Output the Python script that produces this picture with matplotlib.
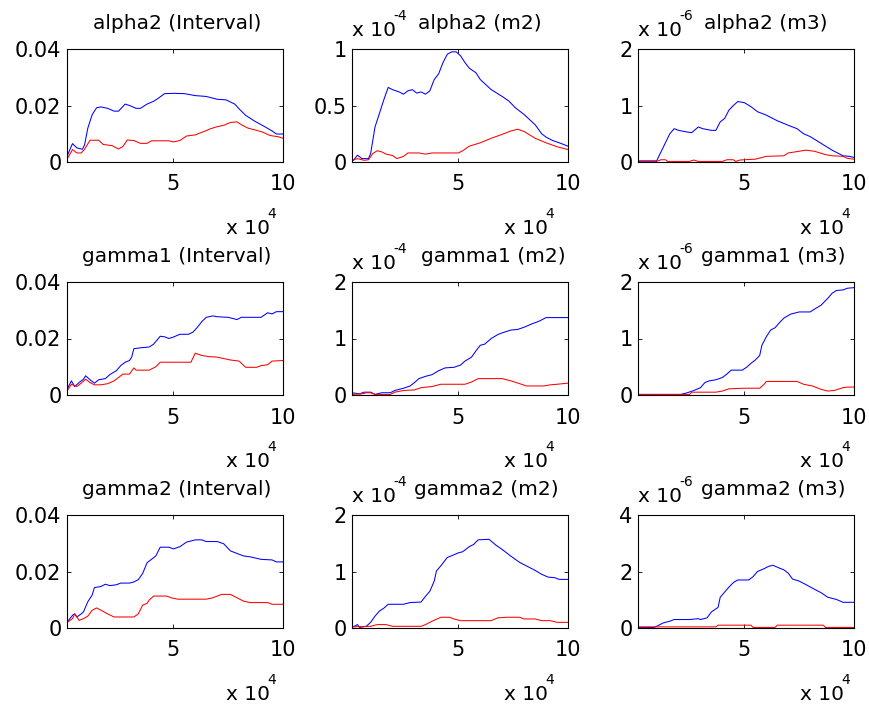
import matplotlib
matplotlib.use("Agg")
import matplotlib.pyplot as plt

plt.rcParams['font.family'] = ['DejaVu Sans']

# x in units of 1e4, y in units of the panel multiplier
a2_int_blue = [(0.15, 0.002), (0.4, 0.0065), (0.6, 0.005), (0.85, 0.0045), (0.95, 0.006), (1.1, 0.012),
               (1.3, 0.0168), (1.5, 0.0192), (1.7, 0.0195), (2.0, 0.019), (2.3, 0.018), (2.5, 0.018),
               (2.8, 0.0205), (3.0, 0.02), (3.3, 0.019), (3.5, 0.019), (3.8, 0.0205), (4.1, 0.0215),
               (4.3, 0.0225), (4.6, 0.0242), (5.0, 0.0243), (5.5, 0.0242), (6.0, 0.0235), (6.5, 0.0232),
               (7.0, 0.0222), (7.4, 0.022), (7.8, 0.0205), (8.0, 0.0188), (8.3, 0.0165), (8.7, 0.0145),
               (9.1, 0.0128), (9.5, 0.011), (9.7, 0.0099), (10.0, 0.0099)]
a2_int_red = [(0.15, 0.001), (0.4, 0.0044), (0.6, 0.0032), (0.8, 0.0032), (0.95, 0.0045), (1.2, 0.0077),
              (1.6, 0.0077), (1.8, 0.0062), (2.2, 0.0058), (2.5, 0.0046), (2.7, 0.0055), (2.9, 0.0078),
              (3.2, 0.0076), (3.5, 0.0066), (3.8, 0.0066), (4.0, 0.0075), (4.8, 0.0075), (5.0, 0.0071),
              (5.3, 0.0076), (5.6, 0.0092), (6.0, 0.0096), (6.4, 0.0108), (6.7, 0.0118), (7.0, 0.0125),
              (7.3, 0.013), (7.6, 0.014), (7.9, 0.0142), (8.1, 0.0132), (8.4, 0.012), (8.8, 0.0112),
              (9.1, 0.0105), (9.4, 0.0094), (9.8, 0.0089), (10.0, 0.0084)]

a2_m2_blue = [(0.15, 0.0), (0.4, 0.06), (0.6, 0.03), (0.9, 0.03), (1.0, 0.075), (1.2, 0.31), (1.4, 0.43),
              (1.6, 0.55), (1.8, 0.66), (2.0, 0.64), (2.3, 0.62), (2.5, 0.6), (2.7, 0.63), (2.9, 0.64),
              (3.1, 0.61), (3.3, 0.62), (3.5, 0.6), (3.7, 0.63), (3.9, 0.73), (4.1, 0.78), (4.3, 0.88),
              (4.5, 0.955), (4.7, 0.975), (4.9, 0.975), (5.1, 0.94), (5.3, 0.88), (5.5, 0.83), (5.8, 0.79),
              (6.0, 0.73), (6.5, 0.64), (7.0, 0.58), (7.3, 0.54), (7.6, 0.48), (8.0, 0.42), (8.5, 0.33),
              (8.8, 0.25), (9.0, 0.22), (9.3, 0.19), (9.6, 0.17), (10.0, 0.14)]
a2_m2_red = [(0.15, 0.015), (0.4, 0.03), (0.7, 0.015), (0.9, 0.02), (1.1, 0.075), (1.3, 0.1), (1.5, 0.09),
             (1.7, 0.07), (2.0, 0.057), (2.2, 0.03), (2.5, 0.05), (2.7, 0.08), (3.2, 0.08), (3.5, 0.07),
             (3.8, 0.08), (4.5, 0.08), (5.0, 0.08), (5.2, 0.1), (5.5, 0.14), (6.0, 0.17), (6.5, 0.21),
             (7.0, 0.245), (7.4, 0.275), (7.7, 0.29), (8.0, 0.27), (8.5, 0.21), (9.0, 0.17), (9.5, 0.135),
             (10.0, 0.11)]

a2_m3_blue = [(0.15, 0.02), (1.0, 0.02), (1.3, 0.26), (1.6, 0.5), (1.8, 0.59), (2.0, 0.56), (2.4, 0.53),
              (2.6, 0.52), (2.9, 0.62), (3.1, 0.59), (3.5, 0.56), (3.7, 0.56), (3.9, 0.71), (4.1, 0.77),
              (4.3, 0.92), (4.5, 1.0), (4.7, 1.07), (5.0, 1.05), (5.3, 0.98), (5.6, 0.89), (6.0, 0.83),
              (6.5, 0.73), (7.0, 0.65), (7.4, 0.59), (7.7, 0.5), (8.0, 0.45), (8.5, 0.33), (9.0, 0.21),
              (9.5, 0.11), (9.8, 0.1), (10.0, 0.08)]
a2_m3_red = [(0.15, 0.01), (1.0, 0.01), (1.2, 0.04), (1.4, 0.04), (1.5, 0.01), (2.5, 0.01), (2.7, 0.035),
             (2.9, 0.01), (4.0, 0.01), (4.2, 0.04), (4.5, 0.04), (4.6, 0.01), (4.8, 0.035), (5.0, 0.04),
             (5.5, 0.05), (6.0, 0.1), (6.8, 0.11), (7.0, 0.16), (7.5, 0.19), (7.8, 0.21), (8.2, 0.19),
             (8.7, 0.13), (9.0, 0.11), (9.5, 0.1), (9.7, 0.065), (10.0, 0.05)]

g1_int_blue = [(0.15, 0.002), (0.35, 0.005), (0.5, 0.003), (0.7, 0.0044), (0.9, 0.0056), (1.0, 0.0068),
               (1.2, 0.0054), (1.4, 0.0042), (1.6, 0.0054), (1.9, 0.0058), (2.1, 0.0072), (2.4, 0.0086),
               (2.6, 0.0104), (2.8, 0.0116), (3.0, 0.0122), (3.1, 0.0134), (3.2, 0.0164), (3.5, 0.0167),
               (3.9, 0.017), (4.1, 0.018), (4.4, 0.0208), (4.6, 0.0206), (4.8, 0.02), (5.0, 0.0205),
               (5.3, 0.0215), (5.7, 0.0215), (5.9, 0.0223), (6.1, 0.024), (6.3, 0.026), (6.5, 0.0275),
               (6.8, 0.028), (7.0, 0.0277), (7.5, 0.0275), (7.9, 0.0267), (8.1, 0.0275), (9.0, 0.0275),
               (9.3, 0.0291), (9.5, 0.0287), (9.7, 0.0295), (10.0, 0.0295)]
g1_int_red = [(0.15, 0.0014), (0.35, 0.0038), (0.6, 0.003), (0.8, 0.0042), (1.0, 0.0056), (1.2, 0.0044),
              (1.4, 0.0036), (1.7, 0.0036), (2.0, 0.004), (2.3, 0.005), (2.5, 0.0062), (2.7, 0.0074),
              (3.0, 0.0074), (3.2, 0.0096), (3.3, 0.0088), (3.9, 0.0088), (4.2, 0.01), (4.4, 0.0116),
              (5.0, 0.0116), (5.8, 0.0116), (6.0, 0.0148), (6.3, 0.014), (6.6, 0.0136), (7.0, 0.0134),
              (7.6, 0.0124), (8.0, 0.012), (8.3, 0.0098), (8.8, 0.0098), (9.0, 0.0104), (9.3, 0.0107),
              (9.5, 0.012), (10.0, 0.0122)]

g1_m2_blue = [(0.15, 0.04), (0.5, 0.02), (0.7, 0.05), (1.0, 0.05), (1.2, 0.01), (1.5, 0.04), (1.9, 0.04),
              (2.1, 0.08), (2.5, 0.12), (2.8, 0.16), (3.0, 0.22), (3.2, 0.29), (3.5, 0.33), (3.8, 0.36),
              (4.1, 0.43), (4.4, 0.48), (4.8, 0.49), (5.1, 0.53), (5.3, 0.6), (5.6, 0.67), (5.8, 0.78),
              (6.0, 0.88), (6.2, 0.9), (6.5, 1.0), (6.8, 1.07), (7.0, 1.1), (7.4, 1.15), (7.7, 1.16),
              (8.0, 1.2), (8.3, 1.25), (8.7, 1.31), (9.0, 1.37), (10.0, 1.37)]
g1_m2_red = [(0.15, 0.01), (0.6, 0.02), (0.8, 0.04), (1.0, 0.04), (1.2, 0.01), (1.9, 0.01), (2.1, 0.05),
             (2.5, 0.08), (3.0, 0.09), (3.3, 0.13), (3.8, 0.15), (4.2, 0.19), (5.3, 0.19), (5.6, 0.23),
             (5.9, 0.29), (7.0, 0.29), (7.4, 0.25), (7.8, 0.2), (8.1, 0.16), (8.9, 0.16), (9.2, 0.18),
             (9.5, 0.19), (10.0, 0.21)]

g1_m3_blue = [(0.15, 0.01), (2.1, 0.01), (2.4, 0.04), (2.7, 0.08), (3.0, 0.13), (3.2, 0.22), (3.4, 0.25),
              (3.7, 0.27), (4.0, 0.31), (4.2, 0.37), (4.4, 0.44), (4.9, 0.44), (5.1, 0.49), (5.3, 0.56),
              (5.5, 0.62), (5.7, 0.7), (5.8, 0.88), (6.0, 1.03), (6.2, 1.15), (6.4, 1.19), (6.6, 1.28),
              (6.8, 1.36), (7.1, 1.43), (7.5, 1.47), (8.0, 1.47), (8.2, 1.52), (8.5, 1.59), (8.8, 1.71),
              (9.0, 1.8), (9.2, 1.85), (9.5, 1.86), (9.7, 1.89), (10.0, 1.9)]
g1_m3_red = [(0.15, 0.01), (2.5, 0.01), (2.6, 0.05), (3.7, 0.05), (4.0, 0.07), (4.3, 0.11), (5.0, 0.12),
             (5.7, 0.12), (5.9, 0.19), (6.0, 0.24), (7.4, 0.24), (7.7, 0.19), (8.1, 0.16), (8.5, 0.1),
             (8.8, 0.07), (9.1, 0.08), (9.5, 0.13), (9.7, 0.14), (10.0, 0.14)]

g2_int_blue = [(0.15, 0.002), (0.4, 0.0045), (0.5, 0.005), (0.6, 0.0039), (0.8, 0.005), (0.9, 0.0057),
               (1.1, 0.0093), (1.3, 0.0117), (1.4, 0.0143), (1.7, 0.0147), (1.9, 0.0155), (2.1, 0.015),
               (2.4, 0.0153), (2.6, 0.0159), (3.0, 0.0159), (3.2, 0.0163), (3.4, 0.0171), (3.6, 0.0193),
               (3.8, 0.0231), (4.0, 0.0243), (4.2, 0.0255), (4.4, 0.0286), (4.8, 0.0286), (5.0, 0.028),
               (5.3, 0.0288), (5.6, 0.0304), (6.0, 0.0312), (6.3, 0.0312), (6.5, 0.0306), (7.0, 0.0306),
               (7.3, 0.0298), (7.6, 0.0273), (7.9, 0.0264), (8.2, 0.0255), (8.5, 0.0252), (9.0, 0.0243),
               (9.5, 0.0241), (9.7, 0.0234), (10.0, 0.0234)]
g2_int_red = [(0.15, 0.002), (0.4, 0.0033), (0.5, 0.005), (0.6, 0.0039), (0.7, 0.0027), (0.9, 0.0033),
              (1.1, 0.0042), (1.3, 0.0063), (1.5, 0.0071), (1.7, 0.0063), (2.0, 0.005), (2.3, 0.0039),
              (3.2, 0.0039), (3.4, 0.005), (3.6, 0.0081), (3.8, 0.0087), (3.9, 0.0099), (4.1, 0.0113),
              (4.7, 0.0113), (4.9, 0.0107), (5.2, 0.0102), (6.5, 0.0102), (6.8, 0.0107), (7.2, 0.0119),
              (7.6, 0.0119), (7.9, 0.0107), (8.2, 0.0095), (8.5, 0.009), (9.3, 0.009), (9.5, 0.0084),
              (10.0, 0.0084)]

g2_m2_blue = [(0.15, 0.01), (0.4, 0.06), (0.5, 0.01), (0.8, 0.03), (1.0, 0.1), (1.2, 0.21), (1.4, 0.3),
              (1.6, 0.35), (1.8, 0.42), (2.5, 0.42), (2.8, 0.45), (3.3, 0.46), (3.5, 0.56), (3.7, 0.65),
              (3.9, 0.83), (4.0, 1.01), (4.2, 1.1), (4.5, 1.25), (4.7, 1.28), (5.0, 1.33), (5.2, 1.35),
              (5.5, 1.44), (5.7, 1.48), (5.9, 1.56), (6.4, 1.57), (6.7, 1.47), (7.0, 1.39), (7.4, 1.27),
              (7.8, 1.16), (8.2, 1.08), (8.5, 1.02), (8.8, 0.95), (9.1, 0.9), (9.4, 0.89), (9.6, 0.86),
              (10.0, 0.86)]
g2_m2_red = [(0.15, 0.02), (1.0, 0.03), (1.3, 0.06), (1.7, 0.06), (2.0, 0.03), (3.3, 0.03), (3.5, 0.06),
             (3.8, 0.12), (4.2, 0.19), (4.6, 0.19), (4.8, 0.16), (5.1, 0.13), (6.5, 0.13), (6.8, 0.18),
             (7.2, 0.19), (7.8, 0.19), (8.0, 0.16), (8.5, 0.16), (8.8, 0.13), (9.2, 0.13), (9.5, 0.1),
             (10.0, 0.1)]

g2_m3_blue = [(0.15, 0.02), (0.9, 0.02), (1.0, 0.06), (1.3, 0.18), (1.6, 0.24), (1.8, 0.3), (2.5, 0.3),
              (2.9, 0.33), (3.0, 0.3), (3.3, 0.36), (3.5, 0.57), (3.8, 0.73), (3.9, 1.09), (4.1, 1.27),
              (4.3, 1.45), (4.5, 1.61), (4.7, 1.7), (5.2, 1.7), (5.4, 1.82), (5.6, 2.0), (5.9, 2.1),
              (6.1, 2.18), (6.3, 2.22), (6.6, 2.12), (6.8, 2.06), (7.0, 1.94), (7.2, 1.73), (7.5, 1.66),
              (7.8, 1.54), (8.2, 1.37), (8.5, 1.25), (8.8, 1.09), (9.2, 1.01), (9.5, 0.91), (10.0, 0.91)]
g2_m3_red = [(0.15, 0.04), (3.7, 0.04), (3.8, 0.1), (5.3, 0.1), (5.4, 0.02), (6.4, 0.02), (6.5, 0.1),
             (8.6, 0.1), (8.7, 0.02), (10.0, 0.02)]

titles = [["alpha2 (Interval)", "alpha2 (m2)", "alpha2 (m3)"],
          ["gamma1 (Interval)", "gamma1 (m2)", "gamma1 (m3)"],
          ["gamma2 (Interval)", "gamma2 (m2)", "gamma2 (m3)"]]
y_exponents = [None, "-4", "-6"]
x_exponent = "4"
y_tops = [[0.04, 1, 2], [0.04, 2, 2], [0.04, 2, 4]]
series = [[(a2_int_blue, a2_int_red), (a2_m2_blue, a2_m2_red), (a2_m3_blue, a2_m3_red)],
          [(g1_int_blue, g1_int_red), (g1_m2_blue, g1_m2_red), (g1_m3_blue, g1_m3_red)],
          [(g2_int_blue, g2_int_red), (g2_m2_blue, g2_m2_red), (g2_m3_blue, g2_m3_red)]]
x_ticks = [5, 10]

# layout in pixels
W, H = 870, 704
col_left = [67, 352, 638]
row_top = [49, 282, 515]
ax_w, ax_h = 216, 113
title_shift = [[2, 20, 20], [2, 33, 27], [2, 26, 27]]
xmult_shift = [13, 20, 10]


def multiplier(ax, x, y, exp, ha='left'):
    # MATLAB style "x 10^n" with a plain-text superscript
    base = ax.text(x, y, "x 10", transform=ax.transAxes, ha=ha, va='baseline', fontsize=14.5)
    ax.annotate(exp, xy=(1, 1), xycoords=base, xytext=(-2, 0.5), textcoords='offset points',
                ha='left', va='baseline', fontsize=10)


fig = plt.figure(figsize=(W / 100, H / 100), dpi=100)

for r in range(3):
    for c in range(3):
        ax = fig.add_axes([col_left[c] / W, 1 - (row_top[r] + ax_h) / H, ax_w / W, ax_h / H])
        blue, red = series[r][c]
        ax.plot([p[0] for p in blue], [p[1] for p in blue], color=(0, 0, 1), lw=0.75)
        ax.plot([p[0] for p in red], [p[1] for p in red], color=(1, 0, 0), lw=0.75)

        top = y_tops[r][c]
        ax.set_xlim(0.15, 10)
        ax.set_ylim(0, top)
        ax.set_xticks(x_ticks)
        ax.set_xticklabels([f"{v:g}" for v in x_ticks])
        yt = [0, top / 2, top]
        ax.set_yticks(yt)
        ax.set_yticklabels([f"{v:g}" for v in yt])
        ax.tick_params(direction='in', top=True, right=True, length=3, width=0.6,
                       labelsize=15, colors='black')
        ax.tick_params(axis='x', pad=9)
        ax.tick_params(axis='y', pad=4)
        for s in ax.spines.values():
            s.set_linewidth(0.8)

        ax.text(0.5 + title_shift[r][c] / ax_w, 1 + 20 / ax_h, titles[r][c],
                transform=ax.transAxes, ha='center', va='baseline', fontsize=14.5)
        if y_exponents[c] is not None:
            multiplier(ax, 0.0, 1 + 13 / ax_h, y_exponents[c])
        multiplier(ax, 1 - xmult_shift[c] / ax_w, -72 / ax_h, x_exponent, ha='right')

fig.savefig("out.png", dpi=100)
